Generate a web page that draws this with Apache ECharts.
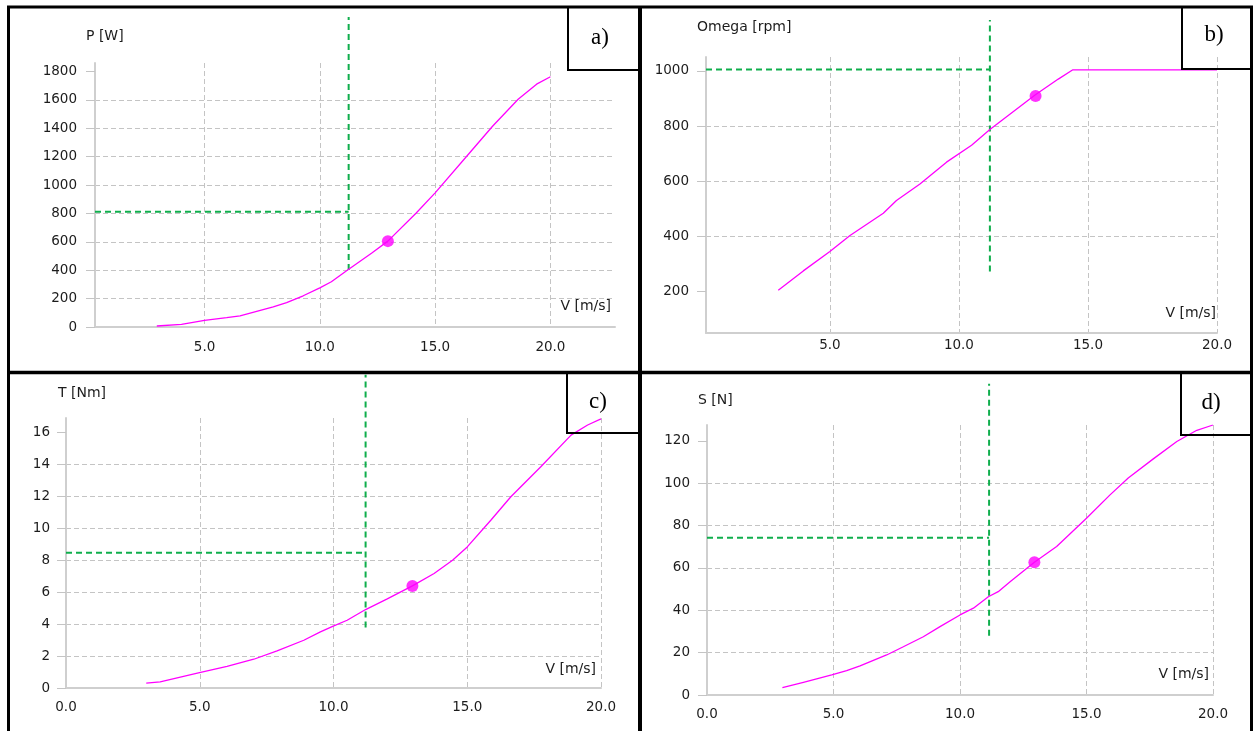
<!doctype html>
<html lang="">
<head>
    <meta charset="utf-8">
    <title>Turbine curves</title>
    <script src="https://cdn.jsdelivr.net/npm/echarts@6/dist/echarts.min.js"></script>
    <style>
        html, body { margin: 0; padding: 0; background: #fff; }
    </style>
</head>
<body>
    <div id="main" style="width: 1253px;height:731px;"></div>
    <script type="text/javascript">
    // ---- data ----
    // a) power
    var vA = [2.93, 4.0, 5.0, 5.96, 6.54, 7.98, 8.56, 9.28, 10.0, 10.5, 11.16, 12.24, 12.95, 14.18, 15.0, 16.5, 17.5, 18.6, 19.4, 20.0];
    var pA = [7, 19, 47, 66, 78, 142, 172, 220, 276, 319, 396, 520, 605, 803, 945, 1228, 1416, 1605, 1711, 1763];
    // b) rotor speed
    var vB = [3.0, 3.97, 5.0, 5.78, 7.07, 7.58, 8.49, 9.52, 10.49, 11.2, 12.95, 13.85, 14.4, 20.0];
    var wB = [205, 275, 345, 403, 484, 530, 590, 669, 730, 787, 912, 970, 1003, 1003];
    // c) torque
    var vC = [3.0, 3.52, 4.95, 6.02, 7.02, 7.89, 8.89, 9.51, 9.99, 10.51, 11.2, 12.01, 12.95, 13.76, 14.45, 15.0, 15.88, 16.63, 17.75, 18.88, 19.5, 20.0];
    var tC = [0.31, 0.38, 0.94, 1.36, 1.80, 2.32, 2.99, 3.51, 3.87, 4.24, 4.91, 5.58, 6.39, 7.17, 8.0, 8.83, 10.5, 11.97, 13.85, 15.83, 16.46, 16.84];
    // d) thrust
    var vD = [2.98, 3.81, 4.93, 5.52, 6.05, 7.1, 7.76, 8.55, 9.21, 10.0, 10.53, 11.12, 11.51, 11.98, 12.94, 13.82, 15.0, 15.93, 16.65, 17.64, 18.57, 19.36, 20.0];
    var sD = [3.45, 6.0, 9.45, 11.5, 13.8, 18.9, 22.8, 27.5, 32.3, 37.8, 41.0, 46.4, 48.8, 53.5, 62.7, 70.1, 83.5, 94.5, 102.5, 111.5, 119.7, 125, 127.5];

    // operating point (magenta dot)
    var pointA = [12.95, 605];
    var pointB = [12.97, 909];
    var pointC = [12.95, 6.39];
    var pointD = [12.94, 62.7];

    // green dashed guides: horizontal at level from xFrom to x, vertical at x from..to
    var guideA = {xFrom: 0.25, x: 11.25, level: 812, from: 401, to: 2184};
    var guideB = {xFrom: 0.2, x: 11.2, level: 1005, from: 273, to: 1184};
    var guideC = {xFrom: 0, x: 11.2, level: 8.46, from: 3.78, to: 19.6};
    var guideD = {xFrom: 0, x: 11.15, level: 74.3, from: 28, to: 147};

    // tick labels
    var xTicksAB = [5, 10, 15, 20];
    var xTicksCD = [0, 5, 10, 15, 20];
    var yTicksA = [0, 200, 400, 600, 800, 1000, 1200, 1400, 1600, 1800];
    var yTicksB = [200, 400, 600, 800, 1000];
    var yTicksC = [0, 2, 4, 6, 8, 10, 12, 14, 16];
    var yTicksD = [0, 20, 40, 60, 80, 100, 120];

    var FONT = 'DejaVu Sans';
    var FS = 13.5;
    var TXT = '#1c1c1c';
    var GRID = '#c4c4c4';
    var AXIS = '#cfcfcf';
    var MAGENTA = '#ff00ff';
    var GREEN = '#0fae4c';

    function pairs(xs, ys) {
        return xs.map(function (x, i) { return [x, ys[i]]; });
    }

    function makeX(idx, opt) {
        var ax = {
            type: 'value', gridIndex: idx, min: opt.min, max: opt.max,
            axisLine: {show: true, onZero: false, lineStyle: {color: AXIS, width: 2}},
            axisTick: {show: false},
            axisLabel: {
                customValues: opt.ticks, margin: opt.margin, color: TXT,
                fontFamily: FONT, fontSize: FS,
                formatter: function (v) { return v.toFixed(1); }
            },
            splitLine: {show: true, showMinLine: false, showMaxLine: opt.maxLine,
                lineStyle: {color: GRID, type: [5, 3]}}
        };
        if (opt.interval) ax.interval = opt.interval;
        if (opt.splitNumber) ax.splitNumber = opt.splitNumber;
        return ax;
    }

    function makeY(idx, opt) {
        var ax = {
            type: 'value', gridIndex: idx, min: opt.min, max: opt.max,
            axisLine: {show: true, lineStyle: {color: AXIS, width: 2}},
            axisTick: {show: true, customValues: opt.ticks, length: 9, lineStyle: {color: GRID}},
            axisLabel: {
                customValues: opt.ticks, margin: opt.margin, color: TXT, fontFamily: FONT, fontSize: FS,
                formatter: function (v) { return String(v); }
            },
            splitLine: {show: true, showMinLine: false, showMaxLine: false,
                lineStyle: {color: GRID, type: [5, 3]}}
        };
        if (opt.interval) ax.interval = opt.interval;
        if (opt.splitNumber) ax.splitNumber = opt.splitNumber;
        return ax;
    }

    function panelSeries(idx, curve, point, g) {
        var dash = {color: GREEN, width: 2, type: [6, 4]};
        return [
            {type: 'line', xAxisIndex: idx, yAxisIndex: idx, clip: false, symbol: 'none', silent: true,
                lineStyle: dash, data: [[g.xFrom, g.level], [g.x, g.level]]},
            {type: 'line', xAxisIndex: idx, yAxisIndex: idx, clip: false, symbol: 'none', silent: true,
                lineStyle: dash, data: [[g.x, g.from], [g.x, g.to]]},
            {type: 'line', xAxisIndex: idx, yAxisIndex: idx, symbol: 'none',
                lineStyle: {color: MAGENTA, width: 1.3}, data: curve, z: 3},
            {type: 'scatter', xAxisIndex: idx, yAxisIndex: idx, symbolSize: 12,
                itemStyle: {color: MAGENTA}, data: [point], z: 4}
        ];
    }

    function txt(x, y, s, align, size, family) {
        return {type: 'text', x: x, y: y, z: 10, style: {
            text: s, fill: align === 'serif' ? '#000' : TXT, font: size + 'px "' + family + '"',
            textAlign: align === 'serif' ? 'center' : align, textVerticalAlign: 'middle'}};
    }

    function border(x1, y1, x2, y2, w) {
        return {type: 'line', z: 20, shape: {x1: x1, y1: y1, x2: x2, y2: y2}, style: {stroke: '#000', lineWidth: w}};
    }

    function box(x, y, w, h) {
        return {type: 'rect', z: 20, shape: {x: x, y: y, width: w, height: h}, style: {fill: null, stroke: '#000', lineWidth: 2}};
    }

    var chart = echarts.init(document.getElementById('main'));

    var option = {
        backgroundColor: '#fff',
        animation: false,
        grid: [
            {left: 95, top: 63, width: 520, height: 264},
            {left: 706, top: 57, width: 511, height: 276},
            {left: 66, top: 418, width: 535, height: 270},
            {left: 707, top: 425, width: 506, height: 270}
        ],
        xAxis: [
            makeX(0, {min: 0.25, max: 22.8, splitNumber: 5, ticks: xTicksAB, margin: 13, maxLine: false}),
            makeX(1, {min: 0.2, max: 20, splitNumber: 4, ticks: xTicksAB, margin: 5, maxLine: true}),
            makeX(2, {min: 0, max: 20, interval: 5, ticks: xTicksCD, margin: 12, maxLine: true}),
            makeX(3, {min: 0, max: 20, interval: 5, ticks: xTicksCD, margin: 12, maxLine: true})
        ],
        yAxis: [
            makeY(0, {min: 0, max: 1860, interval: 200, ticks: yTicksA, margin: 18}),
            makeY(1, {min: 50, max: 1050, splitNumber: 5, ticks: yTicksB, margin: 17}),
            makeY(2, {min: 0, max: 16.9, interval: 2, ticks: yTicksC, margin: 16}),
            makeY(3, {min: 0, max: 127.5, interval: 20, ticks: yTicksD, margin: 17})
        ],
        series: [].concat(
            panelSeries(0, pairs(vA, pA), pointA, guideA),
            panelSeries(1, pairs(vB, wB), pointB, guideB),
            panelSeries(2, pairs(vC, tC), pointC, guideC),
            panelSeries(3, pairs(vD, sD), pointD, guideD)
        ),
        graphic: [
            // axis names
            txt(86, 36, 'P [W]', 'left', 14, FONT),
            txt(697, 27, 'Omega [rpm]', 'left', 14, FONT),
            txt(58, 393, 'T [Nm]', 'left', 14, FONT),
            txt(698, 400, 'S [N]', 'left', 14, FONT),
            txt(611, 306, 'V [m/s]', 'right', 14, FONT),
            txt(1216, 313, 'V [m/s]', 'right', 14, FONT),
            txt(596, 669, 'V [m/s]', 'right', 14, FONT),
            txt(1209, 674, 'V [m/s]', 'right', 14, FONT),
            // panel frames
            border(7, 7, 1253, 7, 3),
            border(8.5, 6, 8.5, 731, 3),
            border(640, 6, 640, 731, 4),
            border(7, 372.5, 1253, 372.5, 3.5),
            border(1251.5, 6, 1251.5, 731, 3),
            // letter boxes
            box(568, 7, 71, 63),
            box(1182, 7, 71, 62),
            box(567, 372, 72, 61),
            box(1181, 372, 72, 63),
            txt(600, 38, 'a)', 'serif', 23, 'Liberation Serif'),
            txt(1214, 35, 'b)', 'serif', 23, 'Liberation Serif'),
            txt(598, 402, 'c)', 'serif', 23, 'Liberation Serif'),
            txt(1211, 403, 'd)', 'serif', 23, 'Liberation Serif')
        ]
    };

    chart.setOption(option);
    </script>
</body>
</html>
